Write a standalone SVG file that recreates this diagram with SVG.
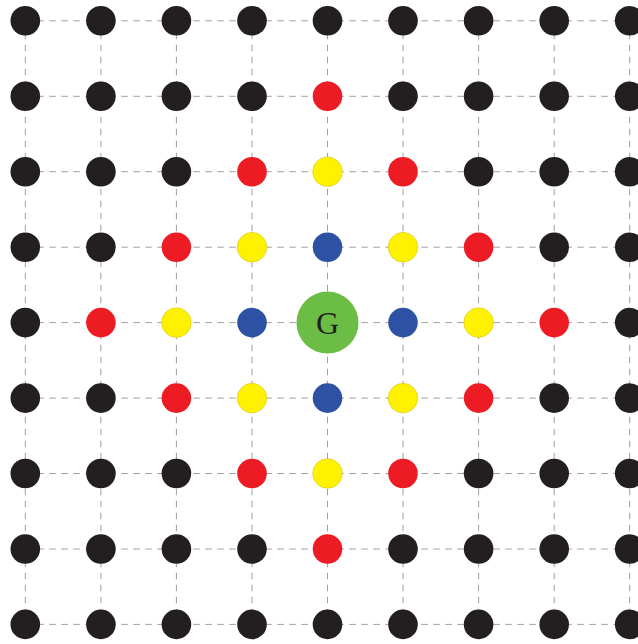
<svg xmlns="http://www.w3.org/2000/svg" width="638" height="644" viewBox="0 0 638 644">
<style>
.k{fill:#231f20}
.r{fill:#ed1c24}
.y{fill:#fff200;stroke:#c9b800;stroke-width:0.5}
.b{fill:#2e52a3}
.g{fill:#6bbd45}
.ln{stroke:#a0a0a0;stroke-width:1;stroke-dasharray:6.5 5.5;fill:none}
.t{font-family:"Liberation Serif","DejaVu Serif",serif;font-size:32px;fill:#231f20;text-anchor:middle}
</style>
<rect width="638" height="644" fill="#ffffff"/>
<g id="connectors">
<path class="ln" d="M25.3 20.8H629.7M25.3 96.3H629.7M25.3 171.7H629.7M25.3 247.2H629.7M25.3 322.6H629.7M25.3 398.1H629.7M25.3 473.5H629.7M25.3 549H629.7M25.3 624.4H629.7"/>
<path class="ln" d="M25.3 20.8V624.4M100.9 20.8V624.4M176.4 20.8V624.4M252 20.8V624.4M327.5 20.8V624.4M403 20.8V624.4M478.6 20.8V624.4M554.2 20.8V624.4M629.7 20.8V624.4"/>
</g>
<g id="nodes">
<g id="n0_0"><circle class="k" cx="25.3" cy="20.8" r="14.8"/></g>
<g id="n0_1"><circle class="k" cx="100.9" cy="20.8" r="14.8"/></g>
<g id="n0_2"><circle class="k" cx="176.4" cy="20.8" r="14.8"/></g>
<g id="n0_3"><circle class="k" cx="252" cy="20.8" r="14.8"/></g>
<g id="n0_4"><circle class="k" cx="327.5" cy="20.8" r="14.8"/></g>
<g id="n0_5"><circle class="k" cx="403" cy="20.8" r="14.8"/></g>
<g id="n0_6"><circle class="k" cx="478.6" cy="20.8" r="14.8"/></g>
<g id="n0_7"><circle class="k" cx="554.2" cy="20.8" r="14.8"/></g>
<g id="n0_8"><circle class="k" cx="629.7" cy="20.8" r="14.8"/></g>

<g id="n1_0"><circle class="k" cx="25.3" cy="96.3" r="14.8"/></g>
<g id="n1_1"><circle class="k" cx="100.9" cy="96.3" r="14.8"/></g>
<g id="n1_2"><circle class="k" cx="176.4" cy="96.3" r="14.8"/></g>
<g id="n1_3"><circle class="k" cx="252" cy="96.3" r="14.8"/></g>
<g id="n1_4"><circle class="r" cx="327.5" cy="96.3" r="14.8"/></g>
<g id="n1_5"><circle class="k" cx="403" cy="96.3" r="14.8"/></g>
<g id="n1_6"><circle class="k" cx="478.6" cy="96.3" r="14.8"/></g>
<g id="n1_7"><circle class="k" cx="554.2" cy="96.3" r="14.8"/></g>
<g id="n1_8"><circle class="k" cx="629.7" cy="96.3" r="14.8"/></g>

<g id="n2_0"><circle class="k" cx="25.3" cy="171.7" r="14.8"/></g>
<g id="n2_1"><circle class="k" cx="100.9" cy="171.7" r="14.8"/></g>
<g id="n2_2"><circle class="k" cx="176.4" cy="171.7" r="14.8"/></g>
<g id="n2_3"><circle class="r" cx="252" cy="171.7" r="14.8"/></g>
<g id="n2_4"><circle class="y" cx="327.5" cy="171.7" r="14.8"/></g>
<g id="n2_5"><circle class="r" cx="403" cy="171.7" r="14.8"/></g>
<g id="n2_6"><circle class="k" cx="478.6" cy="171.7" r="14.8"/></g>
<g id="n2_7"><circle class="k" cx="554.2" cy="171.7" r="14.8"/></g>
<g id="n2_8"><circle class="k" cx="629.7" cy="171.7" r="14.8"/></g>

<g id="n3_0"><circle class="k" cx="25.3" cy="247.2" r="14.8"/></g>
<g id="n3_1"><circle class="k" cx="100.9" cy="247.2" r="14.8"/></g>
<g id="n3_2"><circle class="r" cx="176.4" cy="247.2" r="14.8"/></g>
<g id="n3_3"><circle class="y" cx="252" cy="247.2" r="14.8"/></g>
<g id="n3_4"><circle class="b" cx="327.5" cy="247.2" r="14.8"/></g>
<g id="n3_5"><circle class="y" cx="403" cy="247.2" r="14.8"/></g>
<g id="n3_6"><circle class="r" cx="478.6" cy="247.2" r="14.8"/></g>
<g id="n3_7"><circle class="k" cx="554.2" cy="247.2" r="14.8"/></g>
<g id="n3_8"><circle class="k" cx="629.7" cy="247.2" r="14.8"/></g>

<g id="n4_0"><circle class="k" cx="25.3" cy="322.6" r="14.8"/></g>
<g id="n4_1"><circle class="r" cx="100.9" cy="322.6" r="14.8"/></g>
<g id="n4_2"><circle class="y" cx="176.4" cy="322.6" r="14.8"/></g>
<g id="n4_3"><circle class="b" cx="252" cy="322.6" r="14.8"/></g>
<g id="n4_4"><circle class="g" cx="327.5" cy="322.6" r="31"/><text class="t" x="327.5" y="333.8">G</text></g>
<g id="n4_5"><circle class="b" cx="403" cy="322.6" r="14.8"/></g>
<g id="n4_6"><circle class="y" cx="478.6" cy="322.6" r="14.8"/></g>
<g id="n4_7"><circle class="r" cx="554.2" cy="322.6" r="14.8"/></g>
<g id="n4_8"><circle class="k" cx="629.7" cy="322.6" r="14.8"/></g>

<g id="n5_0"><circle class="k" cx="25.3" cy="398.1" r="14.8"/></g>
<g id="n5_1"><circle class="k" cx="100.9" cy="398.1" r="14.8"/></g>
<g id="n5_2"><circle class="r" cx="176.4" cy="398.1" r="14.8"/></g>
<g id="n5_3"><circle class="y" cx="252" cy="398.1" r="14.8"/></g>
<g id="n5_4"><circle class="b" cx="327.5" cy="398.1" r="14.8"/></g>
<g id="n5_5"><circle class="y" cx="403" cy="398.1" r="14.8"/></g>
<g id="n5_6"><circle class="r" cx="478.6" cy="398.1" r="14.8"/></g>
<g id="n5_7"><circle class="k" cx="554.2" cy="398.1" r="14.8"/></g>
<g id="n5_8"><circle class="k" cx="629.7" cy="398.1" r="14.8"/></g>

<g id="n6_0"><circle class="k" cx="25.3" cy="473.5" r="14.8"/></g>
<g id="n6_1"><circle class="k" cx="100.9" cy="473.5" r="14.8"/></g>
<g id="n6_2"><circle class="k" cx="176.4" cy="473.5" r="14.8"/></g>
<g id="n6_3"><circle class="r" cx="252" cy="473.5" r="14.8"/></g>
<g id="n6_4"><circle class="y" cx="327.5" cy="473.5" r="14.8"/></g>
<g id="n6_5"><circle class="r" cx="403" cy="473.5" r="14.8"/></g>
<g id="n6_6"><circle class="k" cx="478.6" cy="473.5" r="14.8"/></g>
<g id="n6_7"><circle class="k" cx="554.2" cy="473.5" r="14.8"/></g>
<g id="n6_8"><circle class="k" cx="629.7" cy="473.5" r="14.8"/></g>

<g id="n7_0"><circle class="k" cx="25.3" cy="549" r="14.8"/></g>
<g id="n7_1"><circle class="k" cx="100.9" cy="549" r="14.8"/></g>
<g id="n7_2"><circle class="k" cx="176.4" cy="549" r="14.8"/></g>
<g id="n7_3"><circle class="k" cx="252" cy="549" r="14.8"/></g>
<g id="n7_4"><circle class="r" cx="327.5" cy="549" r="14.8"/></g>
<g id="n7_5"><circle class="k" cx="403" cy="549" r="14.8"/></g>
<g id="n7_6"><circle class="k" cx="478.6" cy="549" r="14.8"/></g>
<g id="n7_7"><circle class="k" cx="554.2" cy="549" r="14.8"/></g>
<g id="n7_8"><circle class="k" cx="629.7" cy="549" r="14.8"/></g>

<g id="n8_0"><circle class="k" cx="25.3" cy="624.4" r="14.8"/></g>
<g id="n8_1"><circle class="k" cx="100.9" cy="624.4" r="14.8"/></g>
<g id="n8_2"><circle class="k" cx="176.4" cy="624.4" r="14.8"/></g>
<g id="n8_3"><circle class="k" cx="252" cy="624.4" r="14.8"/></g>
<g id="n8_4"><circle class="k" cx="327.5" cy="624.4" r="14.8"/></g>
<g id="n8_5"><circle class="k" cx="403" cy="624.4" r="14.8"/></g>
<g id="n8_6"><circle class="k" cx="478.6" cy="624.4" r="14.8"/></g>
<g id="n8_7"><circle class="k" cx="554.2" cy="624.4" r="14.8"/></g>
<g id="n8_8"><circle class="k" cx="629.7" cy="624.4" r="14.8"/></g>
</g>
</svg>
